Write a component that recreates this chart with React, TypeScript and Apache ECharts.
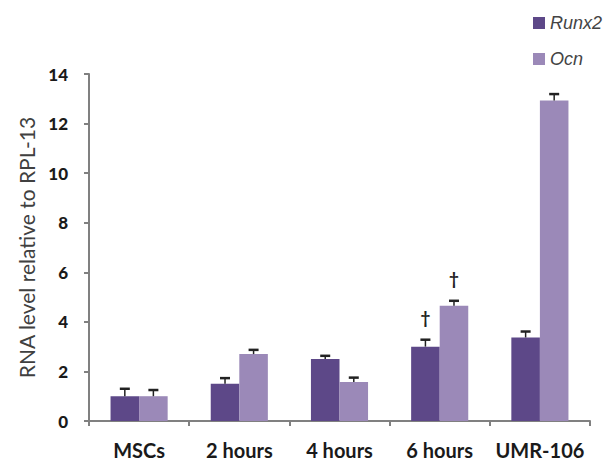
import React, { useEffect, useRef } from "react";
import * as echarts from "echarts";

// Groups along the x axis
const categories = ["MSCs", "2 hours", "4 hours", "6 hours", "UMR-106"];
// Mean expression relative to RPL-13
const runx2 = [1.0, 1.5, 2.5, 3.0, 3.37];
const ocn = [1.0, 2.7, 1.57, 4.65, 12.93];
// Upper error (SD)
const runx2Err = [0.3, 0.23, 0.13, 0.28, 0.24];
const ocnErr = [0.25, 0.17, 0.18, 0.2, 0.26];
// Significance markers (†)
const runx2Sig = [0, 0, 0, 1, 0];
const ocnSig = [0, 0, 0, 1, 0];

const RUNX2_COLOR = "#5d4888";
const OCN_COLOR = "#9b89b8";
const AXIS_COLOR = "#808080";
const GAP = 0.43;

const errData = (vals: number[], errs: number[], sig: number[]) =>
  vals.map((v, i) => [i, v, errs[i], sig[i]]);

const makeErrorRender = (side: number) => (_params: any, api: any) => {
  const ci = api.value(0);
  const v = api.value(1);
  const e = api.value(2);
  const sig = api.value(3);
  const band = api.size([1, 0])[0];
  const bw = (band * (1 - GAP)) / 2;
  const base = api.coord([ci, v]);
  const top = api.coord([ci, v + e]);
  const x = base[0] + (side * bw) / 2;
  const children: any[] = [
    {
      type: "line",
      shape: { x1: x, y1: base[1], x2: x, y2: top[1] },
      style: { stroke: "#222", lineWidth: 1.5 },
    },
    {
      type: "line",
      shape: { x1: x - 5, y1: top[1], x2: x + 5, y2: top[1] },
      style: { stroke: "#222", lineWidth: 2.5 },
    },
  ];
  if (sig) {
    children.push({
      type: "text",
      x,
      y: top[1] - 14,
      style: {
        text: "\u2020",
        fill: "#222",
        font: "bold 17px Lato",
        align: "center",
        verticalAlign: "bottom",
      },
    });
  }
  return { type: "group", children };
};

export default function App() {
  const ref = useRef<HTMLDivElement>(null);

  useEffect(() => {
    if (!ref.current) return;
    const chart = echarts.init(ref.current, null, { renderer: "svg" });
    chart.setOption({
      animation: false,
      backgroundColor: "#ffffff",
      legend: {
        orient: "vertical",
        left: 528,
        top: 9,
        itemWidth: 12,
        itemHeight: 12,
        itemGap: 18,
        icon: "rect",
        data: ["Runx2", "Ocn"],
        textStyle: {
          fontFamily: "Liberation Sans",
          fontStyle: "italic",
          fontSize: 18,
          color: "#444",
        },
      },
      grid: { left: 89, right: 21, top: 74, bottom: 42 },
      xAxis: {
        type: "category",
        data: categories,
        axisLine: { show: true, lineStyle: { color: AXIS_COLOR, width: 2 } },
        axisTick: { show: true, length: 5, lineStyle: { color: AXIS_COLOR, width: 2 } },
        axisLabel: {
          fontFamily: "Lato",
          fontWeight: "bold",
          fontSize: 20,
          color: "#1a1a1a",
          margin: 19,
          interval: 0,
        },
      },
      yAxis: {
        type: "value",
        min: 0,
        max: 14,
        interval: 2,
        name: "RNA level relative to RPL-13",
        nameLocation: "middle",
        nameRotate: 90,
        nameGap: 50,
        nameTextStyle: { fontFamily: "Lato", fontSize: 21, color: "#404040" },
        axisLine: { show: true, lineStyle: { color: AXIS_COLOR, width: 2 } },
        axisTick: { show: true, length: 5, lineStyle: { color: AXIS_COLOR, width: 2 } },
        splitLine: { show: false },
        axisLabel: {
          fontFamily: "Lato",
          fontWeight: 900,
          fontSize: 17,
          color: "#1a1a1a",
          margin: 21,
        },
      },
      series: [
        {
          name: "Runx2",
          type: "bar",
          data: runx2,
          barGap: "0%",
          barCategoryGap: `${GAP * 100}%`,
          itemStyle: { color: RUNX2_COLOR },
        },
        {
          name: "Ocn",
          type: "bar",
          data: ocn,
          barGap: "0%",
          barCategoryGap: `${GAP * 100}%`,
          itemStyle: { color: OCN_COLOR },
        },
        {
          type: "custom",
          renderItem: makeErrorRender(-1),
          data: errData(runx2, runx2Err, runx2Sig),
          encode: { x: 0, y: 1 },
          z: 5,
        },
        {
          type: "custom",
          renderItem: makeErrorRender(1),
          data: errData(ocn, ocnErr, ocnSig),
          encode: { x: 0, y: 1 },
          z: 5,
        },
      ],
    });
    return () => chart.dispose();
  }, []);

  return (
    <div
      ref={ref}
      style={{ position: "fixed", left: 0, top: 0, width: 611, height: 463 }}
    />
  );
}
